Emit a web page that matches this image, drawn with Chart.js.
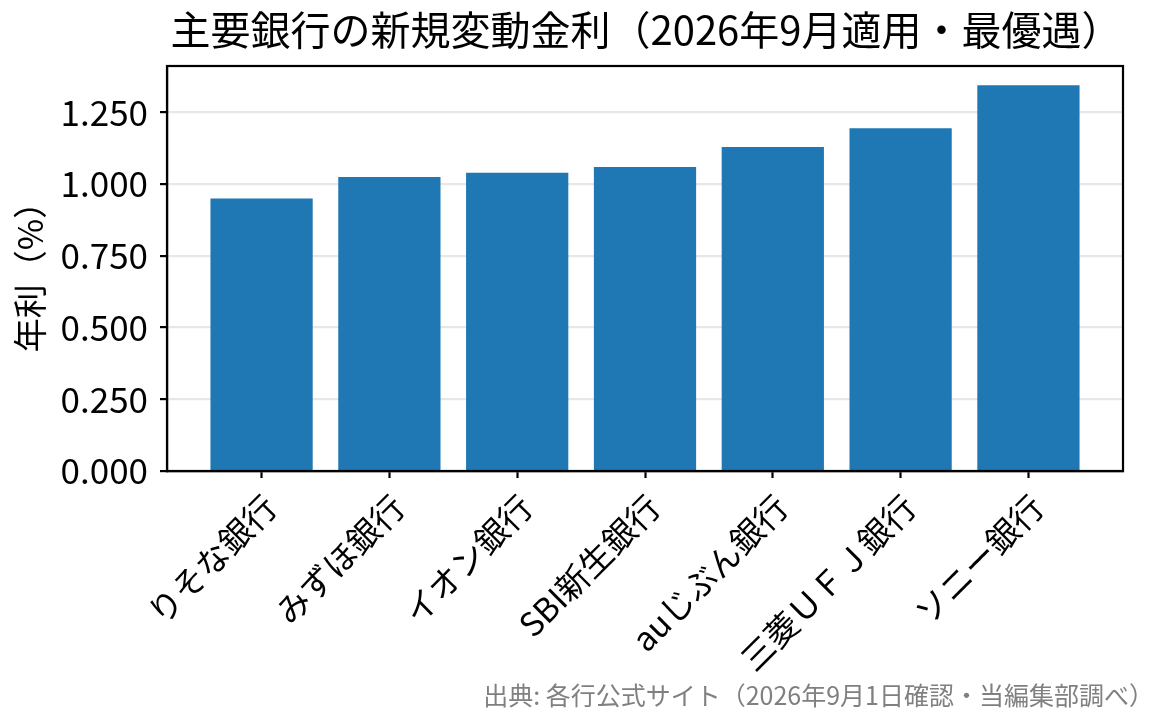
<!DOCTYPE html>
<html>
<head>
<meta charset="utf-8">
<script src="https://cdn.jsdelivr.net/npm/chart.js@4/dist/chart.umd.min.js"></script>
<style>
  html, body { margin: 0; padding: 0; background: #fff; }
  #wrap { width: 1165px; height: 725px; }
</style>
</head>
<body>
<div id="wrap"><canvas id="myChart" width="1165" height="725"></canvas></div>
<script>
const banks = ["りそな銀行", "みずほ銀行", "イオン銀行", "SBI新生銀行", "auじぶん銀行", "三菱ＵＦＪ銀行", "ソニー銀行"];
const rates = [0.950, 1.025, 1.040, 1.060, 1.130, 1.195, 1.345];
const yMax = 1.412;
const yStep = 0.25;
const titleText = "主要銀行の新規変動金利（2026年9月適用・最優遇）";
const yLabel = "年利（%）";
const sourceText = "出典: 各行公式サイト（2026年9月1日確認・当編集部調べ）";

const FONT = '"Noto Sans CJK JP", "Noto Sans", sans-serif';
Chart.defaults.font.family = FONT;
Chart.defaults.color = "#000";

// frame + title + source note
const decor = {
  id: "decor",
  afterDraw(chart) {
    const { ctx, chartArea: a } = chart;
    ctx.save();
    ctx.strokeStyle = "#000";
    ctx.lineWidth = 2.2;
    ctx.strokeRect(a.left, a.top, a.right - a.left, a.bottom - a.top);

    ctx.fillStyle = "#000";
    ctx.font = "40px " + FONT;
    ctx.textAlign = "center";
    ctx.textBaseline = "alphabetic";
    ctx.fillText(titleText, (a.left + a.right) / 2 + 1, 45);

    ctx.fillStyle = "#808080";
    ctx.font = "25px " + FONT;
    ctx.textAlign = "right";
    ctx.textBaseline = "middle";
    ctx.fillText(sourceText, 1154, 695);
    ctx.restore();
  },
};

const ctx = document.getElementById("myChart").getContext("2d");
const chart = new Chart(ctx, {
  type: "bar",
  data: {
    datasets: [
      {
        label: "年利",
        data: rates.map((r, i) => ({ x: i, y: r })),
        backgroundColor: "#1f77b4",
        borderWidth: 0,
        barPercentage: 1.0,
        categoryPercentage: 0.8,
      },
    ],
  },
  options: {
    responsive: false,
    devicePixelRatio: 1,
    animation: { duration: 0 },
    layout: { padding: { top: 66, right: 42, left: 0, bottom: 0 } },
    plugins: {
      legend: { display: false },
      title: { display: false },
      tooltip: { enabled: false },
    },
    scales: {
      x: {
        type: "linear",
        min: -0.74,
        max: 6.74,
        offset: false,
        afterBuildTicks: (scale) => {
          scale.ticks = banks.map((_, i) => ({ value: i }));
        },
        afterFit: (scale) => {
          scale.height = 254;
        },
        ticks: {
          autoSkip: false,
          maxRotation: 45,
          minRotation: 45,
          padding: 9,
          labelOffset: 9,
          font: { size: 33 },
          color: "#000",
          callback: (v) => banks[v],
        },
        grid: {
          offset: false,
          drawOnChartArea: false,
          tickLength: 7,
          tickColor: "#000",
          tickWidth: 2.2,
        },
        border: { color: "#000", width: 2.2 },
      },
      y: {
        min: 0,
        max: yMax,
        z: 1,
        afterFit: (scale) => {
          scale.width = 167;
        },
        ticks: {
          stepSize: yStep,
          includeBounds: false,
          padding: 12,
          font: { size: 35 },
          color: "#000",
          callback: (v) => v.toFixed(3),
        },
        grid: {
          color: "rgba(176,176,176,0.3)",
          lineWidth: 2.2,
          tickLength: 7,
          tickColor: "#000",
          tickWidth: 2.2,
        },
        border: { color: "#000", width: 2.2 },
        title: {
          display: true,
          text: yLabel,
          font: { size: 34 },
          color: "#000",
          padding: { top: 10, bottom: 0 },
        },
      },
    },
  },
  plugins: [decor],
});
</script>
</body>
</html>
